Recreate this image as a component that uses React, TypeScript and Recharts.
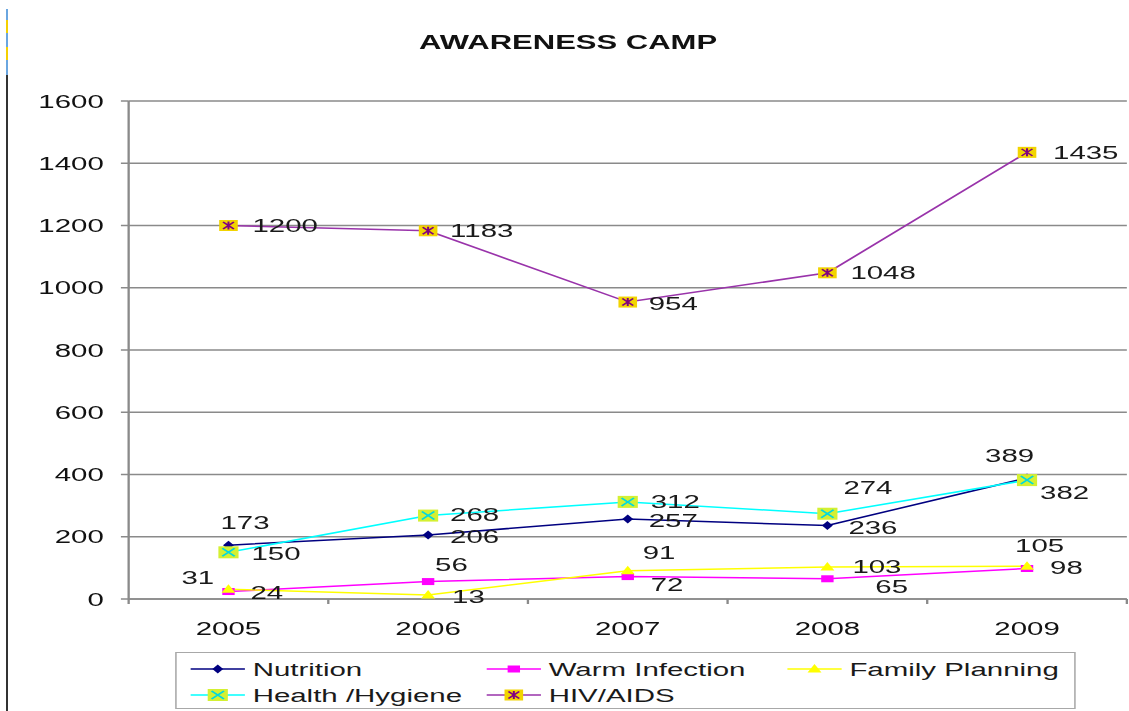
import React from 'react';
import { LineChart, Line, XAxis, YAxis, CartesianGrid, Legend } from 'recharts';

const years = ['2005', '2006', '2007', '2008', '2009'];
const nutrition = [173, 206, 257, 236, 389];
const warmInfection = [24, 56, 72, 65, 98];
const familyPlanning = [31, 13, 91, 103, 105];
const healthHygiene = [150, 268, 312, 274, 382];
const hivAids = [1200, 1183, 954, 1048, 1435];
const yTicks = [0, 200, 400, 600, 800, 1000, 1200, 1400, 1600];

// the source picture is stretched sideways, so the chart is drawn narrow and widened
const SX = 1.55;
const W = 728;
const H = 711;
const FONT = 'Arial, "Liberation Sans", sans-serif';
const AXIS = '#8a8a8a';
const X_GAP = 20; // tickSize + tickMargin of the x axis

const rows = years.map((year, i) => ({
  year,
  nutrition: nutrition[i],
  warmInfection: warmInfection[i],
  familyPlanning: familyPlanning[i],
  healthHygiene: healthHygiene[i],
  hivAids: hivAids[i],
}));

type Kind = 'diamond' | 'square' | 'triangle' | 'xbox' | 'starbox';

const SERIES: { key: string; name: string; color: string; marker: Kind }[] = [
  { key: 'nutrition', name: 'Nutrition', color: '#000080', marker: 'diamond' },
  { key: 'warmInfection', name: 'Warm Infection', color: '#ff00ff', marker: 'square' },
  { key: 'familyPlanning', name: 'Family Planning', color: '#ffff00', marker: 'triangle' },
  { key: 'healthHygiene', name: 'Health /Hygiene', color: '#00ffff', marker: 'xbox' },
  { key: 'hivAids', name: 'HIV/AIDS', color: '#9933aa', marker: 'starbox' },
];

// where each value label sits, in picture px: [to text start, to text middle]
const LABEL_NUDGE: Record<string, number[][]> = {
  nutrition: [[-8, -23], [22, 2], [21, 1], [21, 2], [-42, -22]],
  warmInfection: [[22, 1], [7, -17], [23, 8], [48, 8], [23, -1]],
  familyPlanning: [[-47, -12], [24, 2], [15, -18], [25, 0], [-12, -21]],
  healthHygiene: [[23, 1], [22, -1], [23, 0], [16, -26], [13, 12]],
  hivAids: [[24, 0], [22, 0], [21, 1], [23, 0], [26, 0]],
};

function Marker({ kind, cx, cy }: { kind: Kind; cx: number; cy: number }) {
  switch (kind) {
    case 'diamond':
      return <path d={`M${cx},${cy - 4.5}L${cx + 3.5},${cy}L${cx},${cy + 4.5}L${cx - 3.5},${cy}Z`} fill="#000080" />;
    case 'square':
      return <rect x={cx - 4} y={cy - 3.5} width={8} height={7} fill="#ff00ff" />;
    case 'triangle':
      return <path d={`M${cx},${cy - 5}L${cx + 4.5},${cy + 3.5}L${cx - 4.5},${cy + 3.5}Z`} fill="#ffff00" />;
    case 'xbox':
      return (
        <g>
          <rect x={cx - 6.5} y={cy - 6} width={13} height={12} fill="#d4f032" />
          <path d={`M${cx - 4},${cy - 4}L${cx + 4},${cy + 4}M${cx - 4},${cy + 4}L${cx + 4},${cy - 4}`} stroke="#00d8e0" strokeWidth={1.4} />
        </g>
      );
    default:
      return (
        <g>
          <rect x={cx - 6} y={cy - 5.5} width={12} height={11} fill="#f2d400" />
          <path
            d={`M${cx - 3.5},${cy - 3.5}L${cx + 3.5},${cy + 3.5}M${cx - 3.5},${cy + 3.5}L${cx + 3.5},${cy - 3.5}M${cx},${cy - 4}L${cx},${cy + 4}`}
            stroke="#800080"
            strokeWidth={1.3}
          />
        </g>
      );
  }
}

const makeDot = (kind: Kind) => (p: any) =>
  <Marker key={`d-${p.index}`} kind={kind} cx={p.cx} cy={p.cy} />;

const makeLabel = (key: string) => (p: any) => {
  const x = p.x ?? p.viewBox?.x;
  const y = p.y ?? p.viewBox?.y;
  const [dx, dy] = LABEL_NUDGE[key][p.index] ?? [22, 0];
  return (
    <text key={`l-${p.index}`} x={x + dx / SX} y={y + dy} dominantBaseline="central" fontSize={19} fill="#1a1a1a" fontFamily={FONT}>
      {p.value}
    </text>
  );
};

const XTick = (p: any) => {
  const { x, y, payload, index } = p;
  const half = payload?.offset ?? 0;
  const axisY = y - X_GAP;
  return (
    <g>
      <line x1={x + half} x2={x + half} y1={axisY} y2={axisY + 5} stroke={AXIS} strokeWidth={1.5} />
      {index === 0 && <line x1={x - half} x2={x - half} y1={axisY} y2={axisY + 5} stroke={AXIS} strokeWidth={1.5} />}
      <text x={x} y={axisY + 29} textAnchor="middle" dominantBaseline="central" fontSize={19} fill="#111" fontFamily={FONT}>
        {payload.value}
      </text>
    </g>
  );
};

const LEG_COLS = [10, 201, 395];
const LEG_ROWS = [17, 43];

const renderLegend = () => (
  <svg width={581} height={57} style={{ display: 'block' }}>
    <rect x={0.5} y={0.5} width={580} height={56} fill="#fff" stroke="#a8a8a8" />
    {SERIES.map((s, i) => {
      const sx = LEG_COLS[i % 3];
      const cy = LEG_ROWS[Math.floor(i / 3)];
      return (
        <g key={s.key}>
          <line x1={sx} x2={sx + 35} y1={cy} y2={cy} stroke={s.color} strokeWidth={1.5} />
          <Marker kind={s.marker} cx={sx + 17.5} cy={cy} />
          <text x={sx + 40} y={cy} dominantBaseline="central" fontSize={19} fill="#1a1a1a" fontFamily={FONT}>
            {s.name}
          </text>
        </g>
      );
    })}
  </svg>
);

export default function App() {
  return (
    <div style={{ position: 'absolute', left: 0, top: 0, width: 1129, height: H, background: '#fff', overflow: 'hidden', fontFamily: FONT }}>
      {/* edge strip on the left of the picture */}
      <div style={{ position: 'absolute', left: 6, top: 9, width: 2, height: 66, background: '#6aa6e0' }} />
      <div style={{ position: 'absolute', left: 6, top: 20, width: 2, height: 13, background: '#f5d000' }} />
      <div style={{ position: 'absolute', left: 6, top: 47, width: 2, height: 13, background: '#f5d000' }} />
      <div style={{ position: 'absolute', left: 6, top: 75, width: 2, height: H - 75, background: '#333' }} />

      <div style={{ position: 'absolute', left: 0, top: 0, width: W, height: H, transform: `scaleX(${SX})`, transformOrigin: '0 0' }}>
        <div style={{ position: 'absolute', left: 0, top: 30, width: 733, lineHeight: '24px', textAlign: 'center', fontSize: 20, fontWeight: 'bold', color: '#111' }}>
          AWARENESS CAMP
        </div>
        <LineChart width={W} height={H} data={rows} margin={{ top: 101, right: 1, left: 0, bottom: 82 }}>
          <CartesianGrid vertical={false} stroke={AXIS} strokeWidth={1.6} />
          <XAxis
            dataKey="year"
            scale="band"
            height={30}
            tickLine={false}
            tickSize={0}
            tickMargin={X_GAP}
            stroke={AXIS}
            strokeWidth={1.6}
            tick={<XTick />}
          />
          <YAxis
            type="number"
            domain={[0, 1600]}
            ticks={yTicks}
            width={83}
            tickSize={5}
            tickMargin={11}
            stroke={AXIS}
            strokeWidth={1.5}
            tick={{ fontSize: 19, fill: '#111', fontFamily: FONT }}
          />
          <Legend layout="vertical" align="center" verticalAlign="middle" content={renderLegend} wrapperStyle={{ left: 113, top: 652, width: 581, height: 57 }} />
          {SERIES.map((s) => (
            <Line
              key={s.key}
              dataKey={s.key}
              name={s.name}
              stroke={s.color}
              strokeWidth={1.5}
              dot={makeDot(s.marker)}
              activeDot={false}
              label={makeLabel(s.key)}
              isAnimationActive={false}
            />
          ))}
        </LineChart>
      </div>
    </div>
  );
}
